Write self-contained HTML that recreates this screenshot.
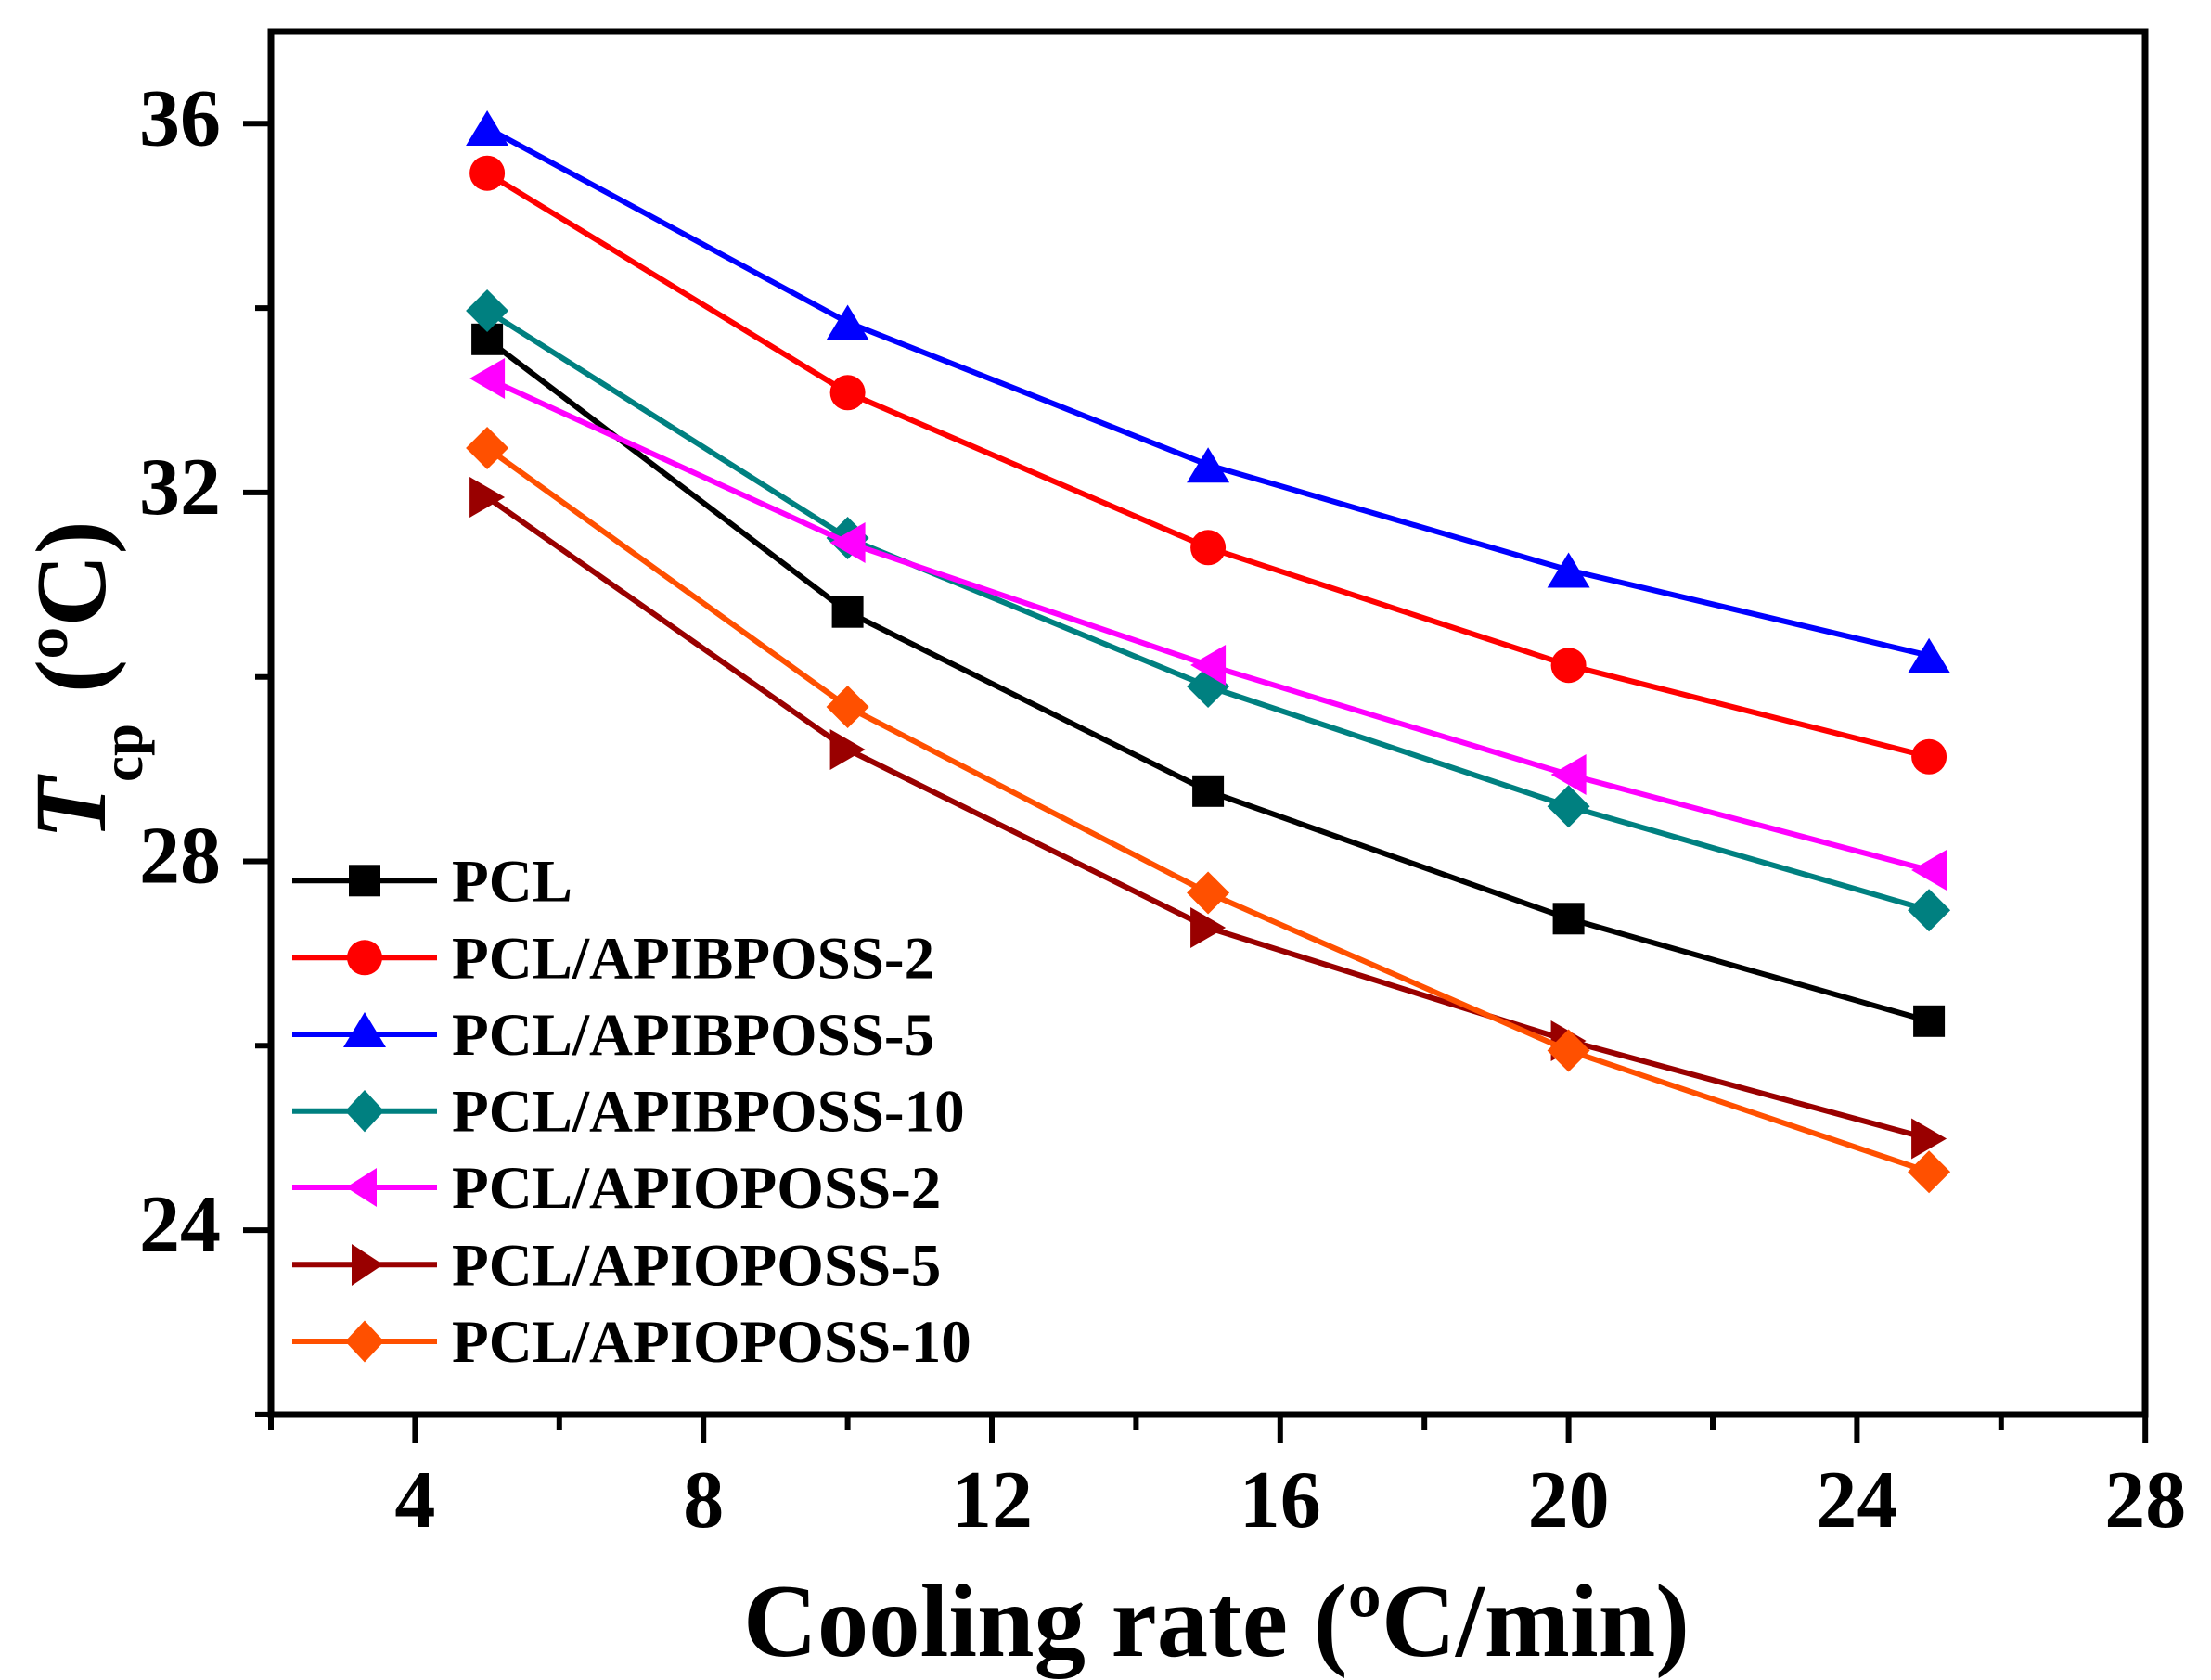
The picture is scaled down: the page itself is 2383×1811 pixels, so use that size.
<!DOCTYPE html>
<html>
<head>
<meta charset="utf-8">
<style>
html,body{margin:0;padding:0;background:#fff;}
svg{display:block;}
text{font-family:"Liberation Serif","Times New Roman",serif;font-weight:bold;fill:#000;}
</style>
</head>
<body>
<svg width="2383" height="1811" viewBox="0 0 2383 1811" xmlns="http://www.w3.org/2000/svg">
<rect width="2383" height="1811" fill="#fff"/>

<!-- Axis frame -->
<rect x="292" y="34" width="2020" height="1491" fill="none" stroke="#000" stroke-width="7"/>

<!-- Bottom ticks -->
<g stroke="#000" stroke-width="6">
<line x1="292" y1="1525" x2="292" y2="1542"/>
<line x1="447.4" y1="1525" x2="447.4" y2="1555"/>
<line x1="602.8" y1="1525" x2="602.8" y2="1542"/>
<line x1="758.2" y1="1525" x2="758.2" y2="1555"/>
<line x1="913.6" y1="1525" x2="913.6" y2="1542"/>
<line x1="1069" y1="1525" x2="1069" y2="1555"/>
<line x1="1224.4" y1="1525" x2="1224.4" y2="1542"/>
<line x1="1379.8" y1="1525" x2="1379.8" y2="1555"/>
<line x1="1535.2" y1="1525" x2="1535.2" y2="1542"/>
<line x1="1690.6" y1="1525" x2="1690.6" y2="1555"/>
<line x1="1846" y1="1525" x2="1846" y2="1542"/>
<line x1="2001.4" y1="1525" x2="2001.4" y2="1555"/>
<line x1="2156.8" y1="1525" x2="2156.8" y2="1542"/>
<line x1="2312.2" y1="1525" x2="2312.2" y2="1555"/>
<!-- Left ticks -->
<line x1="292" y1="1524.9" x2="275" y2="1524.9"/>
<line x1="292" y1="1326.1" x2="262" y2="1326.1"/>
<line x1="292" y1="1127.3" x2="275" y2="1127.3"/>
<line x1="292" y1="928.5" x2="262" y2="928.5"/>
<line x1="292" y1="729.7" x2="275" y2="729.7"/>
<line x1="292" y1="530.9" x2="262" y2="530.9"/>
<line x1="292" y1="332.1" x2="275" y2="332.1"/>
<line x1="292" y1="133.3" x2="262" y2="133.3"/>
</g>

<!-- Y tick labels -->
<g font-size="88" text-anchor="end">
<text x="238" y="156.3">36</text>
<text x="238" y="553.9">32</text>
<text x="238" y="951.5">28</text>
<text x="238" y="1349.1">24</text>
</g>

<!-- X tick labels -->
<g font-size="88" text-anchor="middle">
<text x="447.4" y="1646">4</text>
<text x="758.2" y="1646">8</text>
<text x="1069" y="1646">12</text>
<text x="1379.8" y="1646">16</text>
<text x="1690.6" y="1646">20</text>
<text x="2001.4" y="1646">24</text>
<text x="2312.2" y="1646">28</text>
</g>

<!-- X axis title -->
<text x="1311" y="1785" font-size="112" text-anchor="middle" textLength="1020" lengthAdjust="spacingAndGlyphs">Cooling rate (ºC/min)</text>

<!-- Y axis title -->
<text transform="translate(113,905) rotate(-90)" font-size="110" font-style="italic">T</text>
<text transform="translate(153,843) rotate(-90)" font-size="63">cp</text>
<text transform="translate(113,747) rotate(-90)" font-size="108">(ºC)</text>

<!-- Series: PCL (black squares) -->
<g>
<polyline fill="none" stroke="#000" stroke-width="6" points="525.1,365.8 913.6,659.7 1302.1,852.8 1690.6,990.3 2079.1,1100.8"/>
<g fill="#000">
<rect x="508.1" y="348.8" width="34" height="34"/>
<rect x="896.6" y="642.7" width="34" height="34"/>
<rect x="1285.1" y="835.8" width="34" height="34"/>
<rect x="1673.6" y="973.3" width="34" height="34"/>
<rect x="2062.1" y="1083.8" width="34" height="34"/>
</g>
</g>

<!-- PCL/APIBPOSS-2 (red circles) -->
<g>
<polyline fill="none" stroke="#ff0000" stroke-width="6" points="525.1,186.7 913.6,423.3 1302.1,590.3 1690.6,717.2 2079.1,815.8"/>
<g fill="#ff0000">
<circle cx="525.1" cy="186.7" r="19"/>
<circle cx="913.6" cy="423.3" r="19"/>
<circle cx="1302.1" cy="590.3" r="19"/>
<circle cx="1690.6" cy="717.2" r="19"/>
<circle cx="2079.1" cy="815.8" r="19"/>
</g>
</g>

<!-- PCL/APIBPOSS-5 (blue up triangles) -->
<g>
<polyline fill="none" stroke="#0000ff" stroke-width="6" points="525.1,138 913.6,347.5 1302.1,501.2 1690.6,614.5 2079.1,706.7"/>
<g fill="#0000ff">
<polygon points="525.1,119 548.1,157 502.1,157"/>
<polygon points="913.6,328.5 936.6,366.5 890.6,366.5"/>
<polygon points="1302.1,482.2 1325.1,520.2 1279.1,520.2"/>
<polygon points="1690.6,595.5 1713.6,633.5 1667.6,633.5"/>
<polygon points="2079.1,687.7 2102.1,725.7 2056.1,725.7"/>
</g>
</g>

<!-- PCL/APIBPOSS-10 (teal diamonds) -->
<g>
<polyline fill="none" stroke="#008080" stroke-width="6" points="525.1,335 913.6,580 1302.1,740 1690.6,869.2 2079.1,981.2"/>
<g fill="#008080">
<polygon points="525.1,312 548.1,335 525.1,358 502.1,335"/>
<polygon points="913.6,557 936.6,580 913.6,603 890.6,580"/>
<polygon points="1302.1,717 1325.1,740 1302.1,763 1279.1,740"/>
<polygon points="1690.6,846.2 1713.6,869.2 1690.6,892.2 1667.6,869.2"/>
<polygon points="2079.1,958.2 2102.1,981.2 2079.1,1004.2 2056.1,981.2"/>
</g>
</g>

<!-- PCL/APIOPOSS-2 (magenta left triangles) -->
<g>
<polyline fill="none" stroke="#ff00ff" stroke-width="6" points="525.1,408 913.6,585 1302.1,717 1690.6,835 2079.1,938"/>
<g fill="#ff00ff">
<polygon points="506.1,408 544.1,386 544.1,430"/>
<polygon points="894.6,585 932.6,563 932.6,607"/>
<polygon points="1283.1,717 1321.1,695 1321.1,739"/>
<polygon points="1671.6,835 1709.6,813 1709.6,857"/>
<polygon points="2060.1,938 2098.1,916 2098.1,960"/>
</g>
</g>

<!-- PCL/APIOPOSS-5 (dark red right triangles) -->
<g>
<polyline fill="none" stroke="#990000" stroke-width="6" points="525.1,536 913.6,808 1302.1,1000 1690.6,1122 2079.1,1227.5"/>
<g fill="#990000">
<polygon points="544.1,536 506.1,514 506.1,558"/>
<polygon points="932.6,808 894.6,786 894.6,830"/>
<polygon points="1321.1,1000 1283.1,978 1283.1,1022"/>
<polygon points="1709.6,1122 1671.6,1100 1671.6,1144"/>
<polygon points="2098.1,1227.5 2060.1,1205.5 2060.1,1249.5"/>
</g>
</g>

<!-- PCL/APIOPOSS-10 (orange diamonds) -->
<g>
<polyline fill="none" stroke="#ff5000" stroke-width="6" points="525.1,483 913.6,762 1302.1,962.5 1690.6,1132.5 2079.1,1263.3"/>
<g fill="#ff5000">
<polygon points="525.1,460 548.1,483 525.1,506 502.1,483"/>
<polygon points="913.6,739 936.6,762 913.6,785 890.6,762"/>
<polygon points="1302.1,939.5 1325.1,962.5 1302.1,985.5 1279.1,962.5"/>
<polygon points="1690.6,1109.5 1713.6,1132.5 1690.6,1155.5 1667.6,1132.5"/>
<polygon points="2079.1,1240.3 2102.1,1263.3 2079.1,1286.3 2056.1,1263.3"/>
</g>
</g>

<!-- Legend -->
<g>
<line x1="315" y1="949.3" x2="471" y2="949.3" stroke="#000" stroke-width="6"/>
<rect x="376" y="932.3" width="34" height="34" fill="#000"/>
<text x="487" y="971.3" font-size="65">PCL</text>

<line x1="315" y1="1032.3" x2="471" y2="1032.3" stroke="#ff0000" stroke-width="6"/>
<circle cx="393" cy="1032.3" r="19" fill="#ff0000"/>
<text x="487" y="1054.3" font-size="65">PCL/APIBPOSS-2</text>

<line x1="315" y1="1115" x2="471" y2="1115" stroke="#0000ff" stroke-width="6"/>
<polygon points="393,1091 416,1129 370,1129" fill="#0000ff"/>
<text x="487" y="1137" font-size="65">PCL/APIBPOSS-5</text>

<line x1="315" y1="1197.7" x2="471" y2="1197.7" stroke="#008080" stroke-width="6"/>
<polygon points="393,1175 414,1197.7 393,1220.4 372,1197.7" fill="#008080"/>
<text x="487" y="1219.7" font-size="65">PCL/APIBPOSS-10</text>

<line x1="315" y1="1280" x2="471" y2="1280" stroke="#ff00ff" stroke-width="6"/>
<polygon points="373,1280 406,1259 406,1301" fill="#ff00ff"/>
<text x="487" y="1302" font-size="65">PCL/APIOPOSS-2</text>

<line x1="315" y1="1363.3" x2="471" y2="1363.3" stroke="#990000" stroke-width="6"/>
<polygon points="413,1363.3 379,1341 379,1386" fill="#990000"/>
<text x="487" y="1385.3" font-size="65">PCL/APIOPOSS-5</text>

<line x1="315" y1="1446" x2="471" y2="1446" stroke="#ff5000" stroke-width="6"/>
<polygon points="393,1423.5 414,1446 393,1468.5 372,1446" fill="#ff5000"/>
<text x="487" y="1468" font-size="65">PCL/APIOPOSS-10</text>
</g>
</svg>
</body>
</html>
